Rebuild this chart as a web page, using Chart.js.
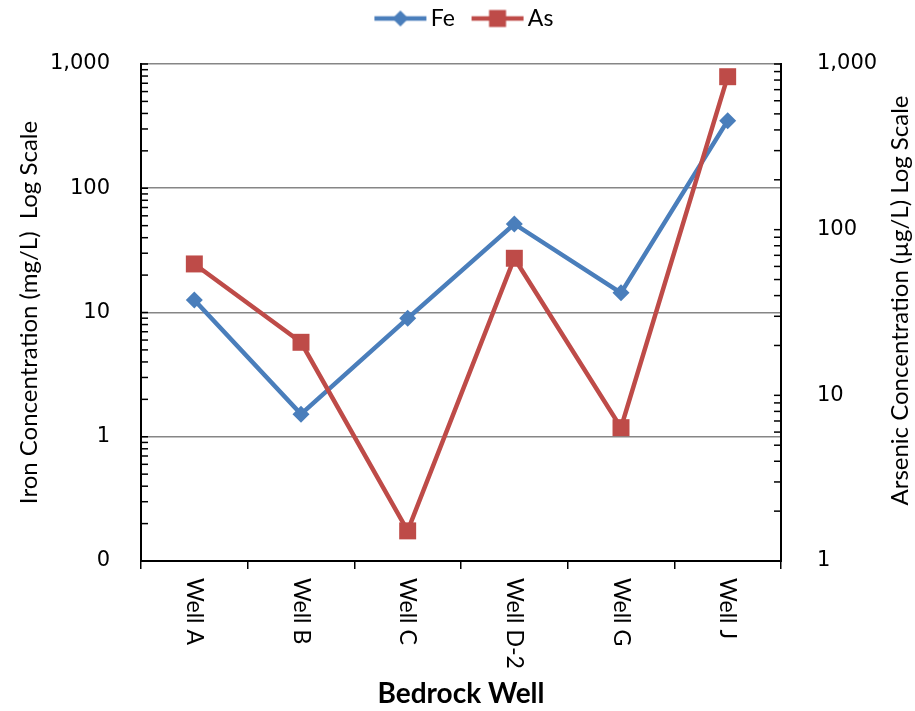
<!DOCTYPE html>
<html>
<head>
<meta charset="utf-8">
<script src="https://cdn.jsdelivr.net/npm/chart.js@4.4.1/dist/chart.umd.min.js"></script>
<style>
html,body{margin:0;padding:0;background:#fff;}
#wrap{width:915px;height:711px;}
</style>
</head>
<body>
<div id="wrap"><canvas id="c" width="915" height="711"></canvas></div>
<script>
// ---- data ----
const categories = ['Well A', 'Well B', 'Well C', 'Well D-2', 'Well G', 'Well J'];
const feValues = [12.6, 1.52, 8.98, 51.6, 14.4, 350];
const asValues = [62.1, 20.9, 1.52, 67.2, 6.38, 838];
const seriesNames = ['Fe', 'As'];
const leftTickValues = [0.1, 1, 10, 100, 1000];
const leftTickLabels = ['0', '1', '10', '100', '1,000'];
const rightTickValues = [1, 10, 100, 1000];
const rightTickLabels = ['1', '10', '100', '1,000'];
const xTitle = 'Bedrock Well';
const leftTitle = 'Iron Concentration (mg/L)  Log Scale';
const rightTitle = 'Arsenic Concentration (\u00B5g/L) Log Scale';

// ---- styles ----
const FE_COLOR = '#4A7EBB';
const AS_COLOR = '#BE4B48';
const TEXT_FONT = 'Lato';
const TICK_FONT = 'DejaVu Sans';

function makeIcon(color, shape) {
  const c = document.createElement('canvas');
  c.width = 76; c.height = 24;
  const g = c.getContext('2d');
  const cy = 12, x0 = 22, x1 = 74, cx = (x0 + x1) / 2;
  g.strokeStyle = color; g.lineWidth = 4.5;
  g.beginPath(); g.moveTo(x0, cy); g.lineTo(x1, cy); g.stroke();
  g.fillStyle = color;
  if (shape === 'diamond') {
    g.beginPath(); g.moveTo(cx, cy - 8); g.lineTo(cx + 8, cy); g.lineTo(cx, cy + 8); g.lineTo(cx - 8, cy); g.closePath(); g.fill();
  } else {
    g.fillRect(cx - 8.5, cy - 8.5, 17, 17);
  }
  return c;
}
const icons = [makeIcon(FE_COLOR, 'diamond'), makeIcon(AS_COLOR, 'square')];

function logTickValues(min, max) {
  const out = [];
  for (let d = min; d < max * 0.999; d *= 10) {
    for (let m = 1; m <= 9; m++) out.push(d * m);
  }
  out.push(max);
  return out;
}

const customDraw = {
  id: 'customDraw',
  afterDraw(chart) {
    const ctx = chart.ctx;
    const xs = chart.scales.x, yl = chart.scales.y, yr = chart.scales.y2;
    ctx.save();
    // inside tick marks
    ctx.strokeStyle = '#000'; ctx.lineWidth = 1.5;
    const tl = 7;
    logTickValues(yl.min, yl.max).forEach(v => {
      const py = yl.getPixelForValue(v);
      ctx.beginPath(); ctx.moveTo(yl.right, py); ctx.lineTo(yl.right + tl, py); ctx.stroke();
    });
    logTickValues(yr.min, yr.max).forEach(v => {
      const py = yr.getPixelForValue(v);
      ctx.beginPath(); ctx.moveTo(yr.left, py); ctx.lineTo(yr.left - tl, py); ctx.stroke();
    });
    // x category labels, rotated clockwise
    ctx.fillStyle = '#000';
    ctx.font = '23px ' + TEXT_FONT;
    ctx.textAlign = 'left'; ctx.textBaseline = 'middle';
    categories.forEach((lab, i) => {
      const px = xs.getPixelForValue(i);
      ctx.save();
      ctx.translate(px, xs.top + 17);
      ctx.rotate(Math.PI / 2);
      ctx.fillText(lab, 0, 0);
      ctx.restore();
    });
    // right axis title, reading bottom to top
    ctx.font = '24px ' + TEXT_FONT;
    ctx.textAlign = 'center';
    ctx.translate(yr.right - 15, (yr.top + yr.bottom) / 2 - 12);
    ctx.rotate(-Math.PI / 2);
    ctx.fillText(rightTitle, 0, 0);
    ctx.restore();
  }
};

new Chart(document.getElementById('c'), {
  type: 'line',
  data: {
    labels: categories,
    datasets: [
      {
        label: seriesNames[0], data: feValues, yAxisID: 'y', order: 1,
        borderColor: FE_COLOR, backgroundColor: FE_COLOR, borderWidth: 4.5, tension: 0,
        pointStyle: 'rectRot', pointRadius: 8.5, pointHoverRadius: 8.5,
        pointBackgroundColor: FE_COLOR, pointBorderColor: FE_COLOR, pointBorderWidth: 0
      },
      {
        label: seriesNames[1], data: asValues, yAxisID: 'y2', order: 0,
        borderColor: AS_COLOR, backgroundColor: AS_COLOR, borderWidth: 4.5, tension: 0,
        pointStyle: 'rect', pointRadius: 12, pointHoverRadius: 12,
        pointBackgroundColor: AS_COLOR, pointBorderColor: AS_COLOR, pointBorderWidth: 0
      }
    ]
  },
  options: {
    responsive: false,
    animation: false,
    devicePixelRatio: 1,
    layout: { padding: { top: 3, left: 0, right: 0, bottom: 0 } },
    plugins: {
      tooltip: { enabled: false },
      legend: {
        display: true, position: 'top', align: 'center',
        labels: {
          usePointStyle: true, pointStyleWidth: 57.5, boxHeight: 23, padding: 4,
          color: '#000', font: { family: TEXT_FONT, size: 23 },
          sort: (a, b) => a.datasetIndex - b.datasetIndex,
          generateLabels: (chart) => {
            const items = Chart.defaults.plugins.legend.labels.generateLabels(chart);
            items.forEach(it => { it.pointStyle = icons[it.datasetIndex]; it.lineWidth = 0; });
            return items;
          }
        }
      },
      subtitle: {
        display: true, text: '', position: 'top', weight: 500,
        font: { size: 10 }, padding: { top: 6, bottom: 6 }
      }
    },
    scales: {
      x: {
        type: 'category', offset: true,
        grid: { display: true, drawOnChartArea: false, drawTicks: true, tickLength: 8, offset: true, color: '#000', tickColor: '#000', tickWidth: 1.5, lineWidth: 1.5 },
        border: { display: true, color: '#000', width: 2 },
        ticks: { display: false },
        title: { display: true, text: xTitle, color: '#000', font: { family: TEXT_FONT, size: 28, weight: 'bold' }, padding: { top: 0, bottom: 0 } },
        afterFit: s => { s.height = 150; }
      },
      y: {
        type: 'logarithmic', position: 'left', min: 0.1, max: 1000,
        afterBuildTicks: s => { s.ticks = leftTickValues.map(v => ({ value: v })); },
        ticks: { autoSkip: false, callback: (v, i) => leftTickLabels[i], color: '#000', font: { family: TICK_FONT, size: 21 }, padding: 31 },
        grid: { display: true, drawOnChartArea: true, drawTicks: false, color: '#868686', lineWidth: 1.6 },
        border: { display: true, color: '#000', width: 2 },
        title: { display: true, text: leftTitle, color: '#000', font: { family: TEXT_FONT, size: 24 }, padding: { top: 15, bottom: 0 } },
        afterFit: s => { s.width = 141; }
      },
      y2: {
        type: 'logarithmic', position: 'right', min: 1, max: 1000,
        afterBuildTicks: s => { s.ticks = rightTickValues.map(v => ({ value: v })); },
        ticks: { autoSkip: false, callback: (v, i) => rightTickLabels[i], color: '#000', font: { family: TICK_FONT, size: 21 }, padding: 36 },
        grid: { display: false, drawOnChartArea: false, drawTicks: false },
        border: { display: true, color: '#000', width: 2 },
        afterFit: s => { s.width = 134; }
      }
    }
  },
  plugins: [customDraw]
});
</script>
</body>
</html>
